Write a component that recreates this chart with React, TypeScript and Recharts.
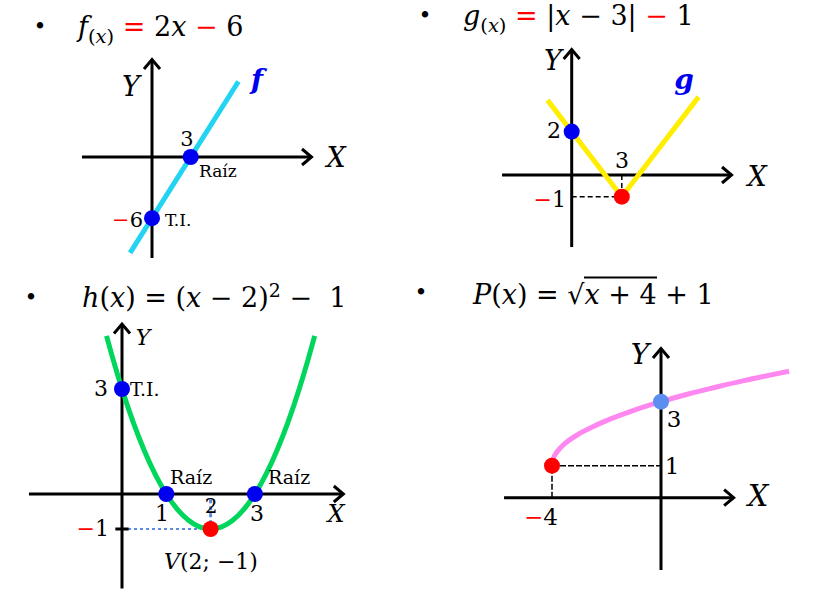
import React from 'react';
import { LineChart, Line, XAxis, YAxis, ReferenceLine, ReferenceDot } from 'recharts';

// puntos de cada curva
const fLine = [{ x: -1.7, y: -9.4 }, { x: 6.7, y: 7.4 }];
const fRoot = { x: 3, y: 0 };
const fIntercept = { x: 0, y: -6 };

const gLine = [{ x: -1.45, y: 3.45 }, { x: 3, y: -1 }, { x: 7.6, y: 3.6 }];
const gIntercept = { x: 0, y: 2 };
const gVertex = { x: 3, y: -1 };

const hCurve = [
  { x: -0.35, y: 4.52 }, { x: -0.2, y: 3.84 }, { x: 0, y: 3 }, { x: 0.25, y: 2.06 },
  { x: 0.5, y: 1.25 }, { x: 0.75, y: 0.56 }, { x: 1, y: 0 }, { x: 1.25, y: -0.44 },
  { x: 1.5, y: -0.75 }, { x: 1.75, y: -0.94 }, { x: 2, y: -1 }, { x: 2.25, y: -0.94 },
  { x: 2.5, y: -0.75 }, { x: 2.75, y: -0.44 }, { x: 3, y: 0 }, { x: 3.25, y: 0.56 },
  { x: 3.5, y: 1.25 }, { x: 3.75, y: 2.06 }, { x: 4, y: 3 }, { x: 4.2, y: 3.84 },
  { x: 4.35, y: 4.52 },
];
const hRoots = [{ x: 1, y: 0 }, { x: 3, y: 0 }];
const hIntercept = { x: 0, y: 3 };
const hVertex = { x: 2, y: -1 };

const pCurve = [
  { x: -4, y: 1 }, { x: -3.95, y: 1.22 }, { x: -3.85, y: 1.39 }, { x: -3.7, y: 1.55 },
  { x: -3.5, y: 1.71 }, { x: -3, y: 2 }, { x: -2.5, y: 2.22 }, { x: -2, y: 2.41 },
  { x: -1, y: 2.73 }, { x: 0, y: 3 }, { x: 1, y: 3.24 }, { x: 2, y: 3.45 },
  { x: 3, y: 3.65 }, { x: 4, y: 3.83 }, { x: 4.7, y: 3.95 },
];
const pStart = { x: -4, y: 1 };
const pIntercept = { x: 0, y: 3 };

const FONT = '"DejaVu Serif", "Liberation Serif", serif';
const RED = '#ff0000';
const BLUE = '#0000f0';

// flecha de los ejes
const AxisArrow = (props: any) => {
  const x1 = props.x1 ?? props.points?.[0]?.x;
  const y1 = props.y1 ?? props.points?.[0]?.y;
  const x2 = props.x2 ?? props.points?.[1]?.x;
  const y2 = props.y2 ?? props.points?.[1]?.y;
  const dx = x2 - x1, dy = y2 - y1;
  const len = Math.hypot(dx, dy) || 1;
  const ux = dx / len, uy = dy / len;
  const L = 11, W = 8;
  const ax = x2 - ux * L, ay = y2 - uy * L;
  return (
    <g>
      <line x1={x1} y1={y1} x2={x2 - ux * 1.5} y2={y2 - uy * 1.5} stroke="#000" strokeWidth={3} />
      <polyline
        points={`${ax - uy * W},${ay + ux * W} ${x2 - ux * 1.5},${y2 - uy * 1.5} ${ax + uy * W},${ay - ux * W}`}
        fill="none" stroke="#000" strokeWidth={3}
      />
    </g>
  );
};

interface PanelProps {
  left: number; top: number; w: number; h: number;
  ox: number; oy: number; sx: number; sy: number;
  xAxis: [number, number]; yAxis: [number, number];
  children: React.ReactNode;
}

function Panel({ left, top, w, h, ox, oy, sx, sy, xAxis, yAxis, children }: PanelProps) {
  const xd: [number, number] = [(left - ox) / sx, (left + w - ox) / sx];
  const yd: [number, number] = [(oy - top - h) / sy, (oy - top) / sy];
  return (
    <div style={{ position: 'absolute', left, top, width: w, height: h }}>
      <LineChart width={w} height={h} margin={{ top: 0, right: 0, bottom: 0, left: 0 }}>
        <XAxis type="number" dataKey="x" domain={xd} allowDataOverflow hide />
        <YAxis type="number" dataKey="y" domain={yd} allowDataOverflow hide />
        <ReferenceLine segment={[{ x: xAxis[0], y: 0 }, { x: xAxis[1], y: 0 }]} shape={AxisArrow} ifOverflow="visible" />
        <ReferenceLine segment={[{ x: 0, y: yAxis[0] }, { x: 0, y: yAxis[1] }]} shape={AxisArrow} ifOverflow="visible" />
        {children}
      </LineChart>
    </div>
  );
}

const T = ({ x, y, size = 22, anchor = 'middle', children, style }: any) => (
  <div
    style={{
      position: 'absolute', left: x, top: y, fontFamily: FONT, fontSize: size, lineHeight: 1,
      whiteSpace: 'nowrap',
      transform: anchor === 'middle' ? 'translate(-50%,-50%)' : anchor === 'end' ? 'translate(-100%,-50%)' : 'translateY(-50%)',
      ...style,
    }}
  >
    {children}
  </div>
);

const R = ({ children }: any) => <span style={{ color: RED }}>{children}</span>;
const I = ({ children }: any) => <i>{children}</i>;
const Sub = ({ children }: any) => <span style={{ fontSize: '0.72em', verticalAlign: '-0.35em' }}>{children}</span>;

export default function App() {
  return (
    <div style={{ position: 'absolute', left: 0, top: 0, width: 818, height: 603, background: '#fff', overflow: 'hidden', fontFamily: FONT }}>
      {/* f */}
      <Panel left={0} top={40} w={409} h={230} ox={152} oy={157} sx={12.9} sy={10.2} xAxis={[-5.43, 12.48]} yAxis={[-9.9, 9.7]}>
        <Line data={fLine} dataKey="y" stroke="#22d3f2" strokeWidth={5} dot={false} isAnimationActive={false} />
        <ReferenceDot x={fRoot.x} y={fRoot.y} r={8} fill={BLUE} stroke="none" />
        <ReferenceDot x={fIntercept.x} y={fIntercept.y} r={8} fill={BLUE} stroke="none" />
      </Panel>
      {/* g */}
      <Panel left={409} top={35} w={409} h={230} ox={571.7} oy={175} sx={16.7} sy={21.7} xAxis={[-4.17, 9.66]} yAxis={[-3.32, 5.85]}>
        <ReferenceLine segment={[{ x: 0, y: gVertex.y }, { x: gVertex.x, y: gVertex.y }]} stroke="#000" strokeWidth={1.5} strokeDasharray="5 3" />
        <ReferenceLine segment={[{ x: gVertex.x, y: 0 }, { x: gVertex.x, y: gVertex.y }]} stroke="#000" strokeWidth={1.5} strokeDasharray="5 3" />
        <Line data={gLine} dataKey="y" stroke="#ffee00" strokeWidth={5} dot={false} isAnimationActive={false} />
        <ReferenceDot x={gIntercept.x} y={gIntercept.y} r={8} fill={BLUE} stroke="none" />
        <ReferenceDot x={gVertex.x} y={gVertex.y} r={8} fill={RED} stroke="none" />
      </Panel>
      {/* h */}
      <Panel left={0} top={315} w={409} h={288} ox={122} oy={494} sx={44.3} sy={35} xAxis={[-2.1, 5.03]} yAxis={[-2.7, 4.9]}>
        <ReferenceLine segment={[{ x: 0, y: hVertex.y }, { x: hVertex.x, y: hVertex.y }]} stroke="#5a8be0" strokeWidth={2} strokeDasharray="3 3" />
        <ReferenceLine segment={[{ x: hVertex.x, y: -0.15 }, { x: hVertex.x, y: hVertex.y }]} stroke="#5a8be0" strokeWidth={3} strokeDasharray="4 3" />
        <ReferenceLine segment={[{ x: -0.15, y: -1 }, { x: 0.15, y: -1 }]} stroke="#000" strokeWidth={3} />
        <Line data={hCurve} dataKey="y" type="monotone" stroke="#00d65c" strokeWidth={5} dot={false} isAnimationActive={false} />
        {hRoots.map((p, i) => (
          <ReferenceDot key={i} x={p.x} y={p.y} r={8} fill={BLUE} stroke="none" />
        ))}
        <ReferenceDot x={hIntercept.x} y={hIntercept.y} r={8} fill={BLUE} stroke="none" />
        <ReferenceDot x={hVertex.x} y={hVertex.y} r={8} fill={RED} stroke="none" />
      </Panel>
      {/* P */}
      <Panel left={409} top={315} w={409} h={288} ox={661} oy={497.7} sx={27.25} sy={32} xAxis={[-5.76, 2.72]} yAxis={[-2.26, 4.71]}>
        <ReferenceLine segment={[{ x: pStart.x, y: pStart.y }, { x: 0, y: pStart.y }]} stroke="#000" strokeWidth={1.5} strokeDasharray="6 2" />
        <ReferenceLine segment={[{ x: pStart.x, y: 0 }, { x: pStart.x, y: pStart.y }]} stroke="#000" strokeWidth={1.5} strokeDasharray="6 2" />
        <Line data={pCurve} dataKey="y" type="monotone" stroke="#ff88f0" strokeWidth={5} dot={false} isAnimationActive={false} />
        <ReferenceDot x={pStart.x} y={pStart.y} r={8} fill={RED} stroke="none" />
        <ReferenceDot x={pIntercept.x} y={pIntercept.y} r={8} fill="#5b8ef0" stroke="none" />
      </Panel>

      {/* títulos */}
      <T x={40} y={27} size={22}>•</T>
      <T x={78} y={30} size={27} anchor="start"><I>f</I><Sub>(<I>x</I>)</Sub> <R>=</R> 2<I>x</I> <R>−</R> 6</T>
      <T x={425} y={16} size={22}>•</T>
      <T x={463} y={19} size={27} anchor="start"><I>g</I><Sub>(<I>x</I>)</Sub> <R>=</R> |<I>x</I> − 3| <R>−</R> 1</T>
      <T x={31} y={298} size={22}>•</T>
      <T x={82} y={297} size={27} anchor="start"><I>h</I>(<I>x</I>) = (<I>x</I> − 2)<sup style={{ fontSize: '0.7em', lineHeight: 0 }}>2</sup> − &nbsp;1</T>
      <T x={421} y={293} size={22}>•</T>
      <T x={473} y={294} size={27} anchor="start">
        <I>P</I>(<I>x</I>) = √<span style={{ borderTop: '2px solid #000' }}><I>x</I> + 4</span> + 1
      </T>

      {/* f etiquetas */}
      <T x={131} y={86} size={27}><I>Y</I></T>
      <T x={336} y={157} size={27}><I>X</I></T>
      <T x={257} y={80} size={28} style={{ color: BLUE, fontWeight: 'bold' }}><I>f</I></T>
      <T x={187} y={139} size={21}>3</T>
      <T x={199} y={171} size={17} anchor="start">Raíz</T>
      <T x={143} y={220} size={21} anchor="end"><R>−</R>6</T>
      <T x={165} y={220} size={17} anchor="start">T.I.</T>

      {/* g etiquetas */}
      <T x={553} y={60} size={27}><I>Y</I></T>
      <T x={757} y={176} size={27}><I>X</I></T>
      <T x={684} y={80} size={28} style={{ color: BLUE, fontWeight: 'bold' }}><I>g</I></T>
      <T x={554} y={131} size={22}>2</T>
      <T x={622} y={161} size={22}>3</T>
      <T x={566} y={200} size={22} anchor="end"><R>−</R>1</T>

      {/* h etiquetas */}
      <T x={143} y={338} size={22}><I>Y</I></T>
      <T x={336} y={514} size={24}><I>X</I></T>
      <T x={108} y={389} size={22} anchor="end">3</T>
      <T x={130} y={389} size={19} anchor="start">T.I.</T>
      <T x={170} y={477} size={19} anchor="start">Raíz</T>
      <T x={268} y={477} size={19} anchor="start">Raíz</T>
      <T x={162} y={514} size={22}>1</T>
      <T x={211} y={506} size={20}>2</T>
      <T x={257} y={514} size={22}>3</T>
      <T x={109} y={529} size={22} anchor="end"><R>−</R>1</T>
      <T x={211} y={562} size={22}><I>V</I>(2; −1)</T>

      {/* P etiquetas */}
      <T x={640} y={355} size={28}><I>Y</I></T>
      <T x={758} y={496} size={29}><I>X</I></T>
      <T x={674} y={419} size={23}>3</T>
      <T x={672} y={466} size={23}>1</T>
      <T x={558} y={517} size={23} anchor="end"><R>−</R>4</T>
    </div>
  );
}
